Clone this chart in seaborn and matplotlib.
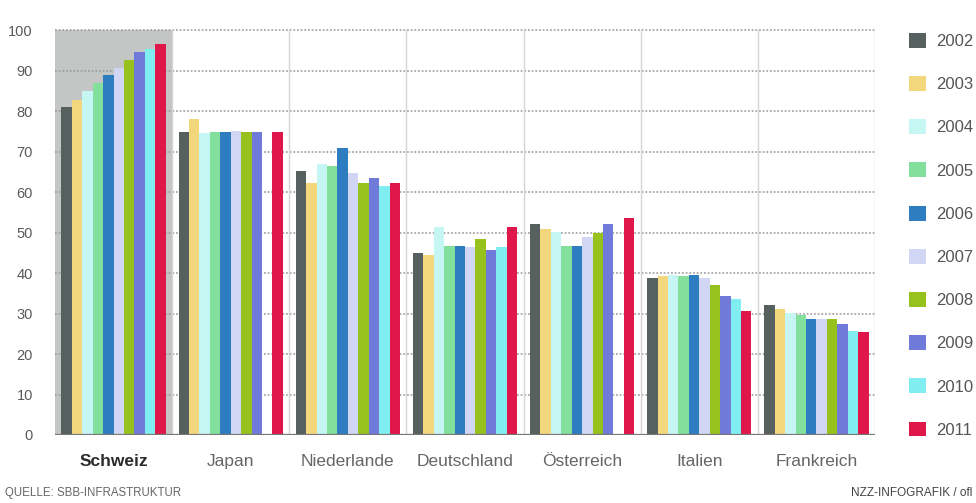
import numpy as np
import pandas as pd
import matplotlib
matplotlib.use("Agg")
import matplotlib.pyplot as plt
import seaborn as sns

countries = ["Schweiz", "Japan", "Niederlande", "Deutschland", "Österreich", "Italien", "Frankreich"]
years = ["2002", "2003", "2004", "2005", "2006", "2007", "2008", "2009", "2010", "2011"]

schweiz = [81.0, 82.7, 85.0, 87.0, 89.0, 90.7, 92.7, 94.5, 95.3, 96.5]
japan = [74.8, 78.0, 74.5, 74.8, 74.8, 75.0, 74.8, 74.8, np.nan, 74.8]
niederlande = [65.3, 62.3, 67.0, 66.4, 70.8, 64.6, 62.1, 63.4, 61.5, 62.3]
deutschland = [45.0, 44.4, 51.4, 46.7, 46.7, 46.5, 48.3, 45.7, 46.5, 51.4]
oesterreich = [52.0, 50.8, 50.2, 46.7, 46.7, 48.8, 50.0, 52.0, np.nan, 53.7]
italien = [38.7, 39.3, 39.5, 39.3, 39.6, 38.7, 37.0, 34.3, 33.7, 30.7]
frankreich = [32.2, 31.1, 30.2, 29.6, 28.6, 28.6, 28.6, 27.3, 25.8, 25.5]

colors = ["#56605f", "#f3d77c", "#c6f6f4", "#82e09c", "#2d7dc0",
          "#d0d6f4", "#97c11c", "#6f7ad9", "#80eef0", "#e0174b"]

yticks = [0, 10, 20, 30, 40, 50, 60, 70, 80, 90, 100]

series = [schweiz, japan, niederlande, deutschland, oesterreich, italien, frankreich]
rows = []
for c, vals in zip(countries, series):
    for y, v in zip(years, vals):
        rows.append({"Land": c, "Jahr": y, "Wert": v})
df = pd.DataFrame(rows)

sns.set_theme(style="white")
plt.rcParams["font.family"] = ["Liberation Sans", "DejaVu Sans"]

W, H = 976, 503
fig = plt.figure(figsize=(W / 100, H / 100), dpi=100)
ymax = 101
px_per_unit = 4.05
ax_bottom = H - 435
ax_h = ymax * px_per_unit
ax = fig.add_axes([55 / W, ax_bottom / H, 820 / W, ax_h / H])

pal = dict(zip(years, colors))
sns.barplot(data=df, x="Land", y="Wert", hue="Jahr", order=countries, hue_order=years,
            palette=pal, width=0.89, gap=0.0, saturation=1, linewidth=0,
            ax=ax, zorder=3)

handles, labels = ax.get_legend_handles_labels()
if ax.get_legend() is not None:
    ax.get_legend().remove()

ax.set_xlim(-0.5, 6.5)
ax.set_ylim(0, ymax)
ax.axvspan(-0.5, 0.5, ymin=0, ymax=100 / ymax, color="#c4c6c6", zorder=0, lw=0)

for yv in yticks[1:]:
    ax.axhline(yv, color="#9a9a9a", lw=1.1, ls=(0, (1.2, 1.2)), zorder=1)
for xv in np.arange(0.5, 6.6, 1.0):
    ax.axvline(xv, ymax=100 / ymax, color="#d4d4d4", lw=1, zorder=1)
ax.axhline(0, color="#777777", lw=1.6, zorder=4)

for s in ax.spines.values():
    s.set_visible(False)
ax.set_xlabel("")
ax.set_ylabel("")
ax.set_yticks(yticks)
ax.set_yticklabels([str(v) for v in yticks], fontsize=10.5, color="#5a5a5a")
ax.tick_params(axis="y", length=0, pad=16)
ax.tick_params(axis="x", length=0, pad=14)
ax.set_xticks(range(len(countries)))
ax.set_xticklabels(countries, fontsize=12.5, color="#666666")
ax.get_xticklabels()[0].set_color("#2b2b2b")
ax.get_xticklabels()[0].set_fontweight("bold")

leg = fig.legend(handles, labels, loc="upper left", bbox_to_anchor=(894 / W, 1 - 18 / H),
                 frameon=False, handlelength=1.0, handleheight=1.0, handletextpad=0.6,
                 labelspacing=1.62, fontsize=12)
for t in leg.get_texts():
    t.set_color("#555555")

fig.text(5 / W, 1 - 493 / H, "QUELLE: SBB-INFRASTRUKTUR", fontsize=8.3, color="#666666",
         va="center", ha="left")
fig.text(972 / W, 1 - 493 / H, "NZZ-INFOGRAFIK / ofl", fontsize=8.5, color="#444444",
         va="center", ha="right")

fig.savefig("out.png", dpi=100, facecolor="white")
